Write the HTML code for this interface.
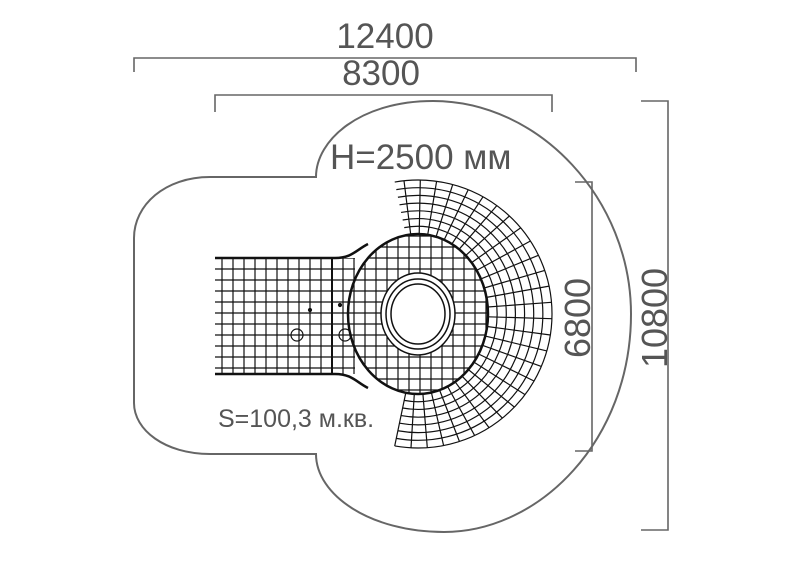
<!DOCTYPE html>
<html><head><meta charset="utf-8"><style>
html,body{margin:0;padding:0;background:#fff}
svg{display:block}
text{font-family:"Liberation Sans",sans-serif;fill:#555}
</style></head><body>
<svg id="s" width="800" height="565" viewBox="0 0 800 565" xmlns="http://www.w3.org/2000/svg">
<defs>
<clipPath id="cb"><ellipse cx="418" cy="314" rx="70" ry="80"/><rect x="215" y="258" width="140" height="116"/></clipPath>
</defs>
<g fill="none" stroke="#666" stroke-width="1.6">
<path d="M316,177 C316,140 360,101 433,101 C540,101 631,200 631,314 C631,440 540,532 444,532 C370,532 316,495 316,454 L210,454 C165,454 134,430 134,403 L134,238 C134,205 165,177 210,177 Z" stroke-width="2"/>
<path d="M134,72 V58 H636 V72"/>
<path d="M215,112 V95 H552 V112"/>
<path d="M641,101 H668 V530 H641"/>
<path d="M575,182 H592 V451 H575"/>
</g>
<g id="eq" fill="none" stroke="#111" stroke-width="1.2"></g>
<text x="385" y="48" font-size="35" text-anchor="middle">12400</text>
<text x="381" y="85" font-size="35" text-anchor="middle">8300</text>
<text x="330" y="169" font-size="35">H=2500 мм</text>
<text x="218" y="427" font-size="25">S=100,3 м.кв.</text>
<text transform="translate(590,318) rotate(-90)" font-size="36" text-anchor="middle">6800</text>
<text transform="translate(667,318) rotate(-90)" font-size="36" text-anchor="middle">10800</text>
</svg>
<script>
var g=document.getElementById('eq'),NS='http://www.w3.org/2000/svg';
function el(t,a,p){var e=document.createElementNS(NS,t);for(var k in a)e.setAttribute(k,a[k]);(p||g).appendChild(e);return e;}
var cx=418,cy=314;
var d='';
for(var a=-100;a<=100;a+=7){var r=a*Math.PI/180;var c=Math.cos(r),s=Math.sin(r);
 d+='M'+(cx+70*c).toFixed(1)+','+(cy-80*s).toFixed(1)+'L'+(cx+134*c).toFixed(1)+','+(cy-134*s).toFixed(1);}
el('path',{d:d});
for(var k=0;k<=7;k++){var rx=70+k*(64/7),ry=80+k*(54/7);var a0=-100*Math.PI/180,a1=100*Math.PI/180;
 el('path',{d:'M'+(cx+rx*Math.cos(a1))+','+(cy-ry*Math.sin(a1))+'A'+rx+','+ry+' 0 1 1 '+(cx+rx*Math.cos(a0))+','+(cy-ry*Math.sin(a0))});}
var gg=el('g',{'clip-path':'url(#cb)'});var d2='';
for(var x=222;x<500;x+=11)d2+='M'+x+',220V410';
for(var y=236;y<400;y+=11)d2+='M200,'+y+'H500';
el('path',{d:d2},gg);
el('ellipse',{cx:cx,cy:cy,rx:70,ry:80,'stroke-width':2.5,stroke:'#111',fill:'none'});
el('path',{d:'M215,258H335 C352,258 356,250 368,244 M215,374H335 C352,374 356,382 368,388','stroke-width':2.5});
el('line',{x1:332,y1:258,x2:332,y2:374,'stroke-width':2});
el('ellipse',{cx:cx,cy:cy,rx:37,ry:41,fill:'#fff','stroke-width':1.5});
el('ellipse',{cx:cx,cy:cy,rx:32,ry:35,'stroke-width':1.5});
el('ellipse',{cx:cx,cy:cy,rx:27,ry:30,'stroke-width':1.5});
el('circle',{cx:297,cy:335,r:6});el('circle',{cx:345,cy:335,r:6});
el('circle',{cx:310,cy:310,r:1.5,fill:'#111'});el('circle',{cx:340,cy:305,r:1.5,fill:'#111'});
</script>
</body></html>
